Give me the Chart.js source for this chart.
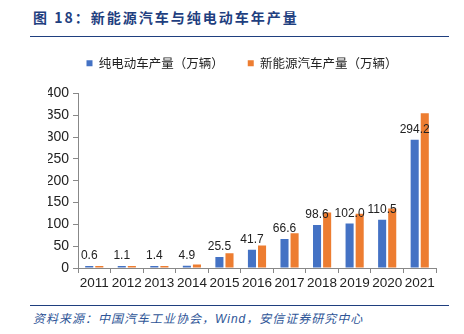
<!DOCTYPE html>
<html>
<head>
<meta charset="utf-8">
<script src="https://cdn.jsdelivr.net/npm/chart.js@4"></script>
<style>
  body { margin: 0; width: 464px; height: 334px; background: #fff; position: relative; overflow: hidden; }
  #title { position: absolute; left: 33px; top: 7px; font: bold 14px "Noto Sans CJK SC", sans-serif; color: #1F3F7F; letter-spacing: 2px; }
  .rule { position: absolute; left: 30px; width: 419px; height: 0; border-top: 1.5px solid #1F3F7F; }
  #chartBox { position: absolute; left: 0; top: 33px; width: 464px; height: 267px; }
  #source { position: absolute; left: 33px; top: 309px; font: italic 12px "Noto Sans CJK SC", sans-serif; color: #2E5597; letter-spacing: 1px; }
</style>
</head>
<body>
<div id="title">图 18：新能源汽车与纯电动车年产量</div>
<div class="rule" style="top:36px"></div>
<div id="chartBox"><canvas id="prodChart"></canvas></div>
<div class="rule" style="top:305px"></div>
<div id="source">资料来源：中国汽车工业协会，<span style="font-family:'Liberation Sans',Arial,sans-serif">Wind</span>，安信证券研究中心</div>

<script>
const years = ["2011", "2012", "2013", "2014", "2015", "2016", "2017", "2018", "2019", "2020", "2021"];
const bevOutput = [0.6, 1.1, 1.4, 4.9, 25.5, 41.7, 66.6, 98.6, 102.0, 110.5, 294.2];
const nevOutput = [0.8, 1.3, 1.8, 7.9, 34.0, 51.7, 79.4, 127.0, 124.2, 136.6, 354.5];
const yTicks = [0, 50, 100, 150, 200, 250, 300, 350, 400];

// labels above the blue bars
const barLabels = {
  id: "barLabels",
  afterDatasetsDraw(chart) {
    const ctx = chart.ctx;
    const meta = chart.getDatasetMeta(0);
    ctx.save();
    ctx.font = "12px 'Liberation Sans', Arial, sans-serif";
    ctx.fillStyle = "#222";
    ctx.textAlign = "center";
    ctx.textBaseline = "bottom";
    meta.data.forEach((bar, i) => {
      ctx.fillText(bevOutput[i].toFixed(1), bar.x, bar.y - 4);
    });
    ctx.restore();
  },
};

// extra room under the legend
const legendGap = {
  id: "legendGap",
  beforeInit(chart) {
    const fit = chart.legend.fit;
    chart.legend.fit = function () {
      fit.bind(chart.legend)();
      this.height += 14;
    };
  },
};

const ctx = document.getElementById("prodChart").getContext("2d");
new Chart(ctx, {
  type: "bar",
  data: {
    labels: years,
    datasets: [
      {
        label: "纯电动车产量（万辆）",
        data: bevOutput,
        backgroundColor: "#4472C4",
        categoryPercentage: 0.62,
        barPercentage: 0.8,
        minBarLength: 2,
      },
      {
        label: "新能源汽车产量（万辆）",
        data: nevOutput,
        backgroundColor: "#ED7D31",
        categoryPercentage: 0.62,
        barPercentage: 0.8,
        minBarLength: 2,
      },
    ],
  },
  options: {
    responsive: true,
    maintainAspectRatio: false,
    animation: false,
    layout: { padding: { left: 48, right: 28, top: 0, bottom: 0 } },
    scales: {
      y: {
        min: 0,
        max: 400,
        afterBuildTicks: (scale) => {
          scale.ticks = yTicks.map((v) => ({ value: v }));
        },
        afterFit: (scale) => {
          scale.width = 30;
        },
        ticks: {
          color: "#222",
          font: { family: "'Liberation Sans', Arial, sans-serif", size: 14 },
          padding: 4,
        },
        grid: { drawOnChartArea: false, drawTicks: true, tickLength: 5, color: "#888" },
        border: { color: "#888" },
      },
      x: {
        afterFit: (scale) => {
          scale.height = 32;
        },
        ticks: {
          color: "#222",
          font: { family: "'Liberation Sans', Arial, sans-serif", size: 13.5 },
          maxRotation: 0,
          autoSkip: false,
          padding: 2,
        },
        grid: { offset: true, drawOnChartArea: false, drawTicks: true, tickLength: 5, color: "#888" },
        border: { color: "#888" },
      },
    },
    plugins: {
      legend: {
        position: "top",
        labels: {
          boxWidth: 6,
          boxHeight: 6,
          padding: 24,
          color: "#222",
          font: { family: "'Noto Sans CJK SC', sans-serif", size: 12.5 },
        },
      },
      tooltip: { enabled: false },
    },
  },
  plugins: [barLabels, legendGap],
});
</script>
</body>
</html>
